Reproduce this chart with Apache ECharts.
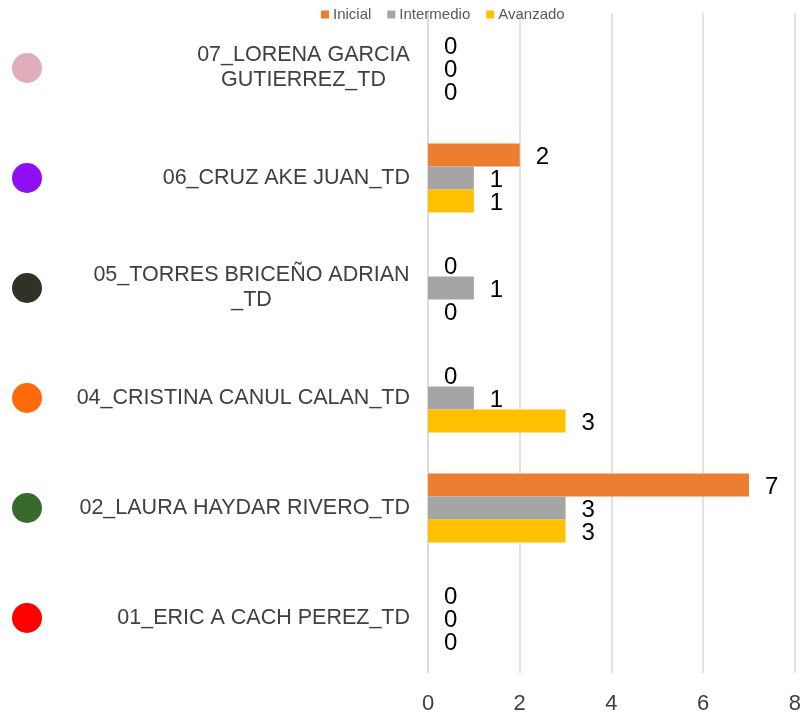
<!DOCTYPE html>
<html><head><meta charset="utf-8">
<script src="https://cdn.jsdelivr.net/npm/echarts@6/dist/echarts.min.js"></script>
<style>html,body{margin:0;padding:0;background:#fff}#c{width:804px;height:715px}</style>
</head><body><div id="c"></div>
<script>
// Categories bottom -> top
const categories = [
  '01_ERIC A CACH PEREZ_TD',
  '02_LAURA HAYDAR RIVERO_TD',
  '04_CRISTINA CANUL CALAN_TD',
  '05_TORRES BRICEÑO ADRIAN\n_TD',
  '06_CRUZ AKE JUAN_TD',
  '07_LORENA GARCIA\nGUTIERREZ_TD'
];
const dotColors = ['#FF0000', '#376B2E', '#FF6A0A', '#2E3326', '#8F0FF5', '#E0AEBA'];
const seriesNames = ['Inicial', 'Intermedio', 'Avanzado'];
const seriesColors = ['#ED7D31', '#A5A5A5', '#FFC000'];
const inicial =    [0, 7, 0, 0, 2, 0];
const intermedio = [0, 3, 1, 1, 1, 0];
const avanzado =   [0, 3, 3, 0, 1, 0];
const xTicks = [0, 2, 4, 6, 8];

const FONT = '"Liberation Sans", Arial, sans-serif';
const labelSize = 21.5;

// rich styles so multi-line labels are centred within their block
const cv = document.createElement('canvas').getContext('2d');
cv.font = labelSize + 'px "Liberation Sans", Arial';
const rich = {};
categories.forEach((c, i) => {
  const lines = c.split('\n');
  if (lines.length > 1) {
    const w = Math.max(...lines.map(l => cv.measureText(l).width));
    rich['l' + i] = { width: Math.ceil(w), align: 'center', fontSize: labelSize, fontFamily: FONT, color: '#404040', lineHeight: 25 };
  }
});

const chart = echarts.init(document.getElementById('c'), null, { renderer: 'canvas' });
const valueData = [inicial, intermedio, avanzado];
const barSeries = [0, 1, 2].map(k => ({
  name: seriesNames[k],
  type: 'bar',
  xAxisIndex: 0, yAxisIndex: 0,
  data: valueData[k],
  barWidth: 23,
  barGap: '0%',
  itemStyle: { color: seriesColors[k] },
  label: { show: true, position: 'right', distance: 16, color: '#000', fontSize: 24, fontFamily: FONT, offset: [0, 2] }
}));

chart.setOption({
  animation: false,
  legend: {
    data: seriesNames,
    top: 7, left: 321, padding: 0,
    itemWidth: 8, itemHeight: 8, itemGap: 16,
    icon: 'rect',
    textStyle: { fontSize: 15, color: '#595959', fontFamily: FONT, padding: [0, 0, 0, -1] }
  },
  grid: [
    { left: 428, right: 8, top: 13, bottom: 42, containLabel: false },
    { left: 12, width: 30, top: 13, bottom: 42, containLabel: false }
  ],
  xAxis: [
    { type: 'value', gridIndex: 0, min: 0, max: 8, interval: 2,
      axisLine: { show: false }, axisTick: { show: false },
      splitLine: { show: true, lineStyle: { color: '#D9D9D9', width: 1.5 } },
      axisLabel: { fontSize: 22, color: '#404040', fontFamily: FONT, margin: 20 } },
    { type: 'value', gridIndex: 1, min: -1, max: 1, show: false }
  ],
  yAxis: [
    { type: 'category', gridIndex: 0, data: categories,
      axisLine: { show: true, lineStyle: { color: '#D9D9D9', width: 1.5 } },
      axisTick: { show: false },
      axisLabel: { fontSize: labelSize, color: '#404040', fontFamily: FONT, margin: 18, lineHeight: 25,
        rich: rich,
        formatter: (v, i) => {
          const lines = v.split('\n');
          if (lines.length > 1) return lines.map(l => '{l' + i + '|' + l + '}').join('\n');
          return v;
        } } },
    { type: 'category', gridIndex: 1, data: categories, show: false }
  ],
  series: barSeries.concat([{
    type: 'scatter', xAxisIndex: 1, yAxisIndex: 1,
    symbolSize: 30,
    data: categories.map((c, i) => ({ value: [0, i], itemStyle: { color: dotColors[i], opacity: 1 } })),
    silent: true
  }])
});
</script></body></html>
